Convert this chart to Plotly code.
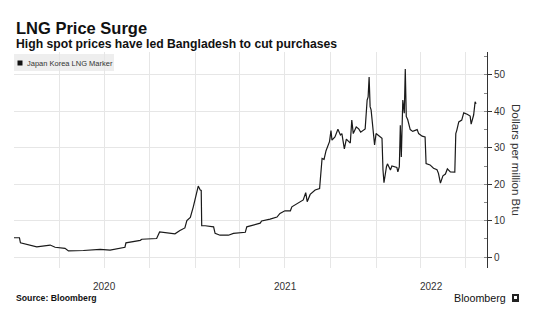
import plotly.graph_objects as go
import pandas as pd

# ---------------- data ----------------
dates = [
    "2020-01-01", "2020-01-12", "2020-01-14", "2020-02-16", "2020-03-14", "2020-03-24",
    "2020-04-13", "2020-04-20", "2020-05-20", "2020-06-23", "2020-07-13", "2020-08-12",
    "2020-08-14", "2020-09-12", "2020-09-15", "2020-10-15", "2020-10-21", "2020-11-15",
    "2020-11-21", "2020-12-01", "2020-12-11", "2020-12-15", "2020-12-22", "2020-12-28",
    "2021-01-04", "2021-01-07", "2021-01-11", "2021-01-13", "2021-01-14", "2021-01-21",
    "2021-02-07", "2021-02-10", "2021-02-20", "2021-03-09", "2021-03-19", "2021-04-12",
    "2021-04-15", "2021-04-25", "2021-05-12", "2021-05-15", "2021-05-25", "2021-06-01",
    "2021-06-15", "2021-06-21", "2021-07-01", "2021-07-12", "2021-07-15", "2021-07-28",
    "2021-08-07", "2021-08-12", "2021-08-15", "2021-08-21", "2021-08-31", "2021-09-09",
    "2021-09-12", "2021-09-14", "2021-09-18", "2021-09-22", "2021-09-29", "2021-10-02",
    "2021-10-04", "2021-10-10", "2021-10-16", "2021-10-21", "2021-10-24", "2021-10-29",
    "2021-11-02", "2021-11-10", "2021-11-13", "2021-11-16", "2021-11-22", "2021-11-27",
    "2021-12-01", "2021-12-10", "2021-12-14", "2021-12-16", "2021-12-18", "2021-12-20",
    "2021-12-22", "2021-12-24", "2021-12-29", "2022-01-01", "2022-01-09", "2022-01-13",
    "2022-01-15", "2022-01-17", "2022-01-22", "2022-01-24", "2022-01-30", "2022-02-02",
    "2022-02-12", "2022-02-14", "2022-02-17", "2022-02-19", "2022-02-21", "2022-02-24",
    "2022-02-27", "2022-03-01", "2022-03-03", "2022-03-06", "2022-03-11", "2022-03-16",
    "2022-03-25", "2022-03-28", "2022-04-04", "2022-04-10", "2022-04-12", "2022-04-20",
    "2022-04-27", "2022-05-04", "2022-05-07", "2022-05-11", "2022-05-16", "2022-05-21",
    "2022-05-25", "2022-05-31", "2022-06-09", "2022-06-11", "2022-06-13", "2022-06-17",
    "2022-06-23", "2022-06-27", "2022-07-04", "2022-07-10", "2022-07-12", "2022-07-17",
    "2022-07-20", "2022-07-22",
]
jkm_price = [
    5.3, 5.3, 3.9, 2.8, 3.3, 2.7,
    2.4, 1.7, 1.8, 2.1, 1.9, 2.7,
    3.9, 4.6, 4.9, 5.1, 6.9, 6.6,
    6.4, 7.3, 8.0, 10.0, 10.9, 13.8,
    17.5, 19.5, 18.4, 18.3, 8.6, 8.6,
    8.3, 6.5, 6.0, 6.0, 6.5, 6.8,
    8.3, 8.7, 9.3, 9.9, 10.1, 10.4,
    11.0, 12.0, 12.7, 12.7, 13.8, 15.0,
    15.7, 17.7, 15.2, 17.2, 18.4, 18.8,
    24.4, 27.1, 26.8, 29.2, 31.7, 34.7,
    32.1, 33.0, 35.1, 33.5, 33.9, 29.7,
    32.4, 31.3, 37.6, 33.9, 35.7, 35.2,
    34.3, 35.2, 43.1, 44.0, 49.4, 41.3,
    40.4, 37.6, 30.8, 33.9, 33.0, 32.6,
    23.9, 20.4, 24.8, 25.6, 23.9, 25.0,
    24.6, 23.4, 24.8, 36.2, 27.5, 43.1,
    39.5, 51.6, 38.6, 37.7, 35.0, 34.5,
    35.0, 33.9, 33.2, 33.0, 25.7, 25.3,
    24.4, 24.0, 23.0, 20.3, 22.3, 22.8,
    24.2, 23.4, 23.3, 33.9, 34.8, 37.1,
    37.6, 39.6, 39.2, 38.7, 36.5, 39.0,
    42.6, 42.1,
]
series_name = "Japan Korea LNG Marker"
year_labels = ["2020", "2021", "2022"]
y_ticks = [0, 10, 20, 30, 40, 50]

title = "LNG Price Surge"
subtitle = "High spot prices have led Bangladesh to cut purchases"
source = "Source: Bloomberg"
y_title = "Dollars per million Btu"

# ---------------- layout geometry ----------------
W, H = 546, 334
L, R, T, B = 14, 487, 52, 268
x_start = pd.Timestamp("2020-01-01")
x_end = pd.Timestamp("2022-08-13")
y_range = [-3.0, 56.3]

def px_x(p):
    return (p - L) / (R - L)

def px_y(p):
    return (B - p) / (B - T)

grid_dates = pd.date_range("2020-04-01", x_end, freq="QS")

# year label positions: centre of visible part of each year
year_pos = []
for y in year_labels:
    a = max(pd.Timestamp(f"{y}-01-01"), x_start)
    b = min(pd.Timestamp(f"{int(y)+1}-01-01"), x_end)
    year_pos.append(a + (b - a) / 2)

FONT = "Liberation Sans, Arial, sans-serif"
DARK = "#333333"
GRID = "#e6e6e6"

fig = go.Figure()
fig.add_trace(go.Scatter(
    x=pd.to_datetime(dates), y=jkm_price, mode="lines",
    line=dict(color="#1a1a1a", width=1.2),
    name=series_name, showlegend=False, hoverinfo="skip",
))

annotations = [
    dict(text=f"<b>{title}</b>", x=px_x(14), y=px_y(28), xref="paper", yref="paper",
         xanchor="left", yanchor="middle", showarrow=False,
         font=dict(family=FONT, size=16.5, color="#111111")),
    dict(text=f"<b>{subtitle}</b>", x=px_x(14), y=px_y(44), xref="paper", yref="paper",
         xanchor="left", yanchor="middle", showarrow=False,
         font=dict(family=FONT, size=12.2, color="#111111")),
    dict(text=series_name, x=px_x(25), y=px_y(63), xref="paper", yref="paper",
         xanchor="left", yanchor="middle", showarrow=False,
         font=dict(family=FONT, size=7.5, color=DARK)),
    dict(text=f"<b>{source}</b>", x=px_x(14), y=px_y(298), xref="paper", yref="paper",
         xanchor="left", yanchor="middle", showarrow=False,
         font=dict(family=FONT, size=8.7, color="#111111")),
    dict(text="Bloomberg", x=px_x(508), y=px_y(298), xref="paper", yref="paper",
         xanchor="right", yanchor="middle", showarrow=False,
         font=dict(family=FONT, size=10.7, color="#111111")),
    dict(text=y_title, x=px_x(516), y=px_y(160), xref="paper", yref="paper",
         xanchor="center", yanchor="middle", showarrow=False, textangle=90,
         font=dict(family=FONT, size=11.5, color=DARK)),
]
for lab, pos in zip(year_labels, year_pos):
    annotations.append(dict(text=lab, x=pos, y=px_y(286), xref="x", yref="paper",
                            xanchor="center", yanchor="middle", showarrow=False,
                            font=dict(family=FONT, size=10, color=DARK)))

shapes = [
    # legend box
    dict(type="rect", xref="paper", yref="paper", x0=px_x(14), x1=px_x(114),
         y0=px_y(71), y1=px_y(54), fillcolor="#eeeeee", line=dict(width=0), layer="below"),
    dict(type="rect", xref="paper", yref="paper", x0=px_x(17.5), x1=px_x(22.5),
         y0=px_y(65.5), y1=px_y(60.5), fillcolor="#111111", line=dict(width=0)),
    # Bloomberg icon
    dict(type="rect", xref="paper", yref="paper", x0=px_x(512), x1=px_x(519),
         y0=px_y(302), y1=px_y(294), fillcolor="#222222", line=dict(width=0)),
    dict(type="rect", xref="paper", yref="paper", x0=px_x(514), x1=px_x(517),
         y0=px_y(299), y1=px_y(296), fillcolor="#ffffff", line=dict(width=0)),
]

fig.update_layout(
    width=W, height=H,
    margin=dict(l=L, r=W - R, t=T, b=H - B, pad=0),
    paper_bgcolor="white", plot_bgcolor="white",
    showlegend=False,
    annotations=annotations, shapes=shapes,
    xaxis=dict(
        type="date", range=[x_start, x_end],
        tickvals=list(grid_dates), showticklabels=False, ticks="",
        showgrid=True, gridcolor=GRID, gridwidth=1, zeroline=False, showline=False,
    ),
    yaxis=dict(
        side="right", range=y_range, tickvals=y_ticks,
        showgrid=True, gridcolor=GRID, gridwidth=1, zeroline=False,
        showline=True, linecolor=DARK, linewidth=1, mirror=False,
        ticks="outside", ticklen=4, tickcolor=DARK, tickwidth=1,
        tickfont=dict(family=FONT, size=10, color=DARK),
        minor=dict(dtick=5, tick0=0, ticks="inside", ticklen=3, tickcolor="#888888",
                   showgrid=False),
    ),
)

fig.write_html("out.html")
